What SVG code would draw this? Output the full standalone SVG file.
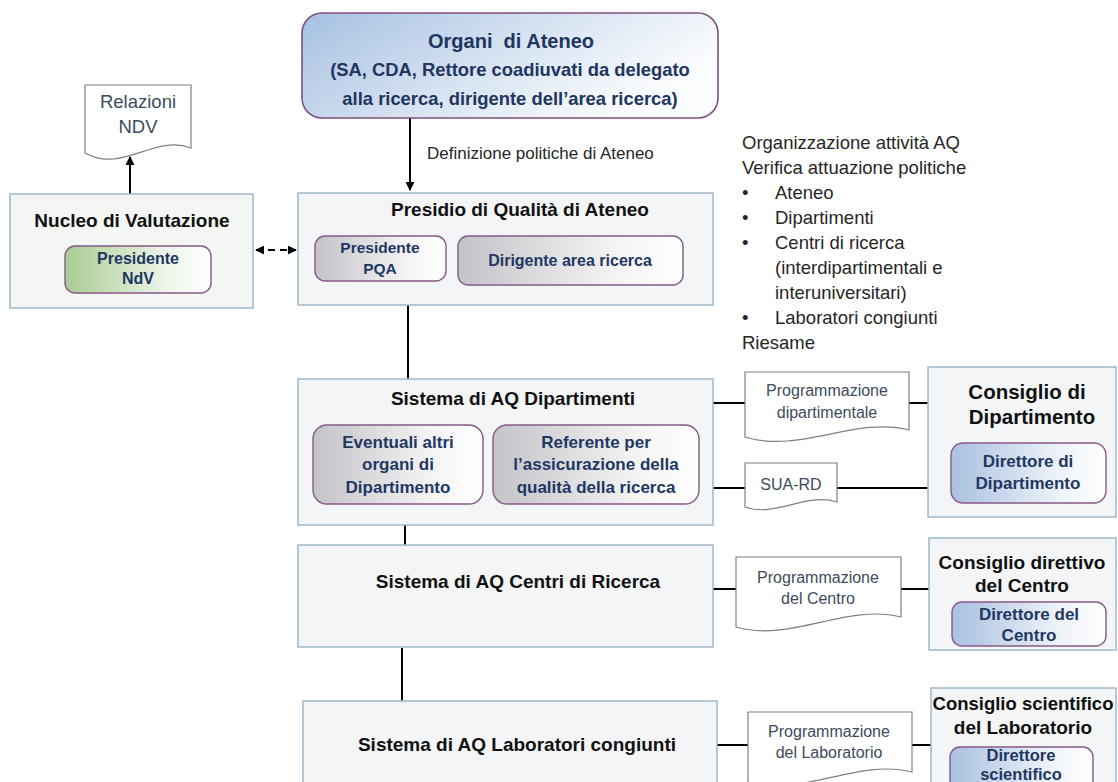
<svg xmlns="http://www.w3.org/2000/svg" width="1118" height="782" viewBox="0 0 1118 782">
<defs>
<linearGradient id="gOrg" x1="0" y1="0" x2="1" y2="0.4"><stop offset="0" stop-color="#a6c0e2"/><stop offset="0.6" stop-color="#dbe6f3"/><stop offset="1" stop-color="#fbfcfe"/></linearGradient>
<linearGradient id="gGray" x1="0" y1="0" x2="1" y2="0"><stop offset="0" stop-color="#c3c3c8"/><stop offset="0.7" stop-color="#f4f4f5"/><stop offset="1" stop-color="#ffffff"/></linearGradient>
<linearGradient id="gBlue" x1="0" y1="0" x2="1" y2="0"><stop offset="0" stop-color="#a9c0e0"/><stop offset="0.7" stop-color="#eef3f9"/><stop offset="1" stop-color="#ffffff"/></linearGradient>
<linearGradient id="gGreen" x1="0" y1="0" x2="1" y2="0"><stop offset="0" stop-color="#a9cc93"/><stop offset="0.7" stop-color="#eef5ea"/><stop offset="1" stop-color="#ffffff"/></linearGradient>
<marker id="ah" viewBox="0 0 10 10" refX="9" refY="5" markerWidth="4.5" markerHeight="4.5" orient="auto-start-reverse"><path d="M0,0 L10,5 L0,10 Z" fill="#000"/></marker>
<style>
.frame{fill:#f3f5f7;stroke:#9fb9cc;stroke-width:1.5}
.sub{stroke:#875a87;stroke-width:1.4}
.doc{fill:#ffffff;stroke:#808080;stroke-width:1.2}
.ln{stroke:#000;stroke-width:2;fill:none}
text{font-family:"Liberation Sans",Arial,sans-serif}
.ttl{font-weight:bold;fill:#111;text-anchor:middle}
.nv{font-weight:bold;fill:#1f3763;text-anchor:middle}
.dt{fill:#3d4b5c;text-anchor:middle;font-size:16px}
.pl{fill:#262626;font-size:18.5px}
</style>
</defs>

<g id="connectors">
<line class="ln" x1="410" y1="118" x2="410" y2="190" marker-end="url(#ah)"/>
<line class="ln" x1="130" y1="194" x2="130" y2="157" marker-end="url(#ah)"/>
<line class="ln" x1="256" y1="250" x2="296" y2="250" stroke-dasharray="7,5" marker-start="url(#ah)" marker-end="url(#ah)"/>
<line class="ln" x1="408" y1="305" x2="408" y2="379"/>
<line class="ln" x1="405" y1="525" x2="405" y2="545"/>
<line class="ln" x1="402" y1="648" x2="402" y2="701"/>
<line class="ln" x1="713" y1="403" x2="745" y2="403"/>
<line class="ln" x1="909" y1="403" x2="928" y2="403"/>
<line class="ln" x1="713" y1="488" x2="745" y2="488"/>
<line class="ln" x1="837" y1="488" x2="928" y2="488"/>
<line class="ln" x1="713" y1="589" x2="736" y2="589"/>
<line class="ln" x1="901" y1="589" x2="929" y2="589"/>
<line class="ln" x1="717" y1="745" x2="748" y2="745"/>
<line class="ln" x1="912" y1="745" x2="931" y2="745"/>
<text x="427" y="159" style="font-size:17px;fill:#262626">Definizione politiche di Ateneo</text>
</g>

<g id="organi">
<rect x="302" y="13" width="416" height="105" rx="20" fill="url(#gOrg)" stroke="#7f507f" stroke-width="1.6"/>
<text class="nv" x="511" y="48" style="font-size:20px;fill:#203560">Organi&#160; di Ateneo</text>
<text class="nv" x="510" y="76" style="font-size:18.4px;fill:#203560">(SA, CDA, Rettore coadiuvati da delegato</text>
<text class="nv" x="510" y="105" style="font-size:18.4px;fill:#203560">alla ricerca, dirigente dell’area ricerca)</text>
</g>

<g id="relazioni-ndv">
<path class="doc" d="M85,85 H191 V148 C154,134 122,174 85,153 Z"/>
<text class="dt" x="138" y="108" style="font-size:18.5px">Relazioni</text>
<text class="dt" x="138" y="133" style="font-size:18.5px">NDV</text>
</g>

<g id="nucleo">
<rect class="frame" x="10" y="194" width="243" height="114" style="fill:#f3f6f3"/>
<text class="ttl" x="132" y="227" style="font-size:19px">Nucleo di Valutazione</text>
<rect class="sub" x="65" y="246" width="146" height="47" rx="10" fill="url(#gGreen)"/>
<text class="nv" x="138" y="264" style="font-size:16px">Presidente</text>
<text class="nv" x="138" y="284" style="font-size:16px">NdV</text>
</g>

<g id="presidio">
<rect class="frame" x="298" y="193" width="415" height="112"/>
<text class="ttl" x="520" y="216" style="font-size:19px">Presidio di Qualità di Ateneo</text>
<rect class="sub" x="315" y="236" width="131" height="45" rx="10" fill="url(#gGray)"/>
<text class="nv" x="380" y="253" style="font-size:15.5px">Presidente</text>
<text class="nv" x="380" y="274" style="font-size:15.5px">PQA</text>
<rect class="sub" x="458" y="236" width="225" height="49" rx="10" fill="url(#gGray)"/>
<text class="nv" x="570" y="266" style="font-size:16px">Dirigente area ricerca</text>
</g>

<g id="attivita">
<text class="pl" x="742" y="149">Organizzazione attività AQ</text>
<text class="pl" x="742" y="174">Verifica attuazione politiche</text>
<text class="pl" x="742" y="199">•</text><text class="pl" x="775" y="199">Ateneo</text>
<text class="pl" x="742" y="224">•</text><text class="pl" x="775" y="224">Dipartimenti</text>
<text class="pl" x="742" y="249">•</text><text class="pl" x="775" y="249">Centri di ricerca</text>
<text class="pl" x="775" y="274">(interdipartimentali e</text>
<text class="pl" x="775" y="299">interuniversitari)</text>
<text class="pl" x="742" y="324">•</text><text class="pl" x="775" y="324">Laboratori congiunti</text>
<text class="pl" x="742" y="349">Riesame</text>
</g>

<g id="dipartimenti">
<rect class="frame" x="298" y="379" width="415" height="146"/>
<text class="ttl" x="513" y="405" style="font-size:19px">Sistema di AQ Dipartimenti</text>
<rect class="sub" x="313" y="425" width="170" height="79" rx="14" fill="url(#gGray)"/>
<text class="nv" x="398" y="448" style="font-size:17px">Eventuali altri</text>
<text class="nv" x="398" y="470" style="font-size:17px">organi di</text>
<text class="nv" x="398" y="493" style="font-size:17px">Dipartimento</text>
<rect class="sub" x="493" y="425" width="206" height="79" rx="14" fill="url(#gGray)"/>
<text class="nv" x="596" y="448" style="font-size:17px">Referente per</text>
<text class="nv" x="596" y="470" style="font-size:17px">l’assicurazione della</text>
<text class="nv" x="596" y="493" style="font-size:17px">qualità della ricerca</text>
</g>

<g id="prog-dipartimentale">
<path class="doc" d="M745,372 H909 V430 C855,416 800,454 745,437 Z"/>
<text class="dt" x="827" y="396">Programmazione</text>
<text class="dt" x="827" y="418">dipartimentale</text>
</g>

<g id="sua-rd">
<path class="doc" d="M745,463 H837 V502 C805,492 775,518 745,507 Z"/>
<text class="dt" x="791" y="490">SUA-RD</text>
</g>

<g id="consiglio-dip">
<rect class="frame" x="928" y="367" width="188" height="150"/>
<text class="ttl" x="1027" y="399" style="font-size:20.5px">Consiglio di</text>
<text class="ttl" x="1032" y="424" style="font-size:20.5px">Dipartimento</text>
<rect class="sub" x="951" y="443" width="155" height="60" rx="12" fill="url(#gBlue)"/>
<text class="nv" x="1028" y="467" style="font-size:17px">Direttore di</text>
<text class="nv" x="1028" y="489" style="font-size:17px">Dipartimento</text>
</g>

<g id="centri">
<rect class="frame" x="298" y="545" width="415" height="102"/>
<text class="ttl" x="518" y="588" style="font-size:19px">Sistema di AQ Centri di Ricerca</text>
</g>

<g id="prog-centro">
<path class="doc" d="M736,557 H901 V617 C846,603 791,643 736,627 Z"/>
<text class="dt" x="818" y="583">Programmazione</text>
<text class="dt" x="818" y="604">del Centro</text>
</g>

<g id="consiglio-centro">
<rect class="frame" x="929" y="538" width="187" height="112"/>
<text class="ttl" x="1022" y="569" style="font-size:19px">Consiglio direttivo</text>
<text class="ttl" x="1022" y="592" style="font-size:19px">del Centro</text>
<rect class="sub" x="952" y="602" width="154" height="44" rx="10" fill="url(#gBlue)"/>
<text class="nv" x="1029" y="620" style="font-size:17px">Direttore del</text>
<text class="nv" x="1029" y="641" style="font-size:17px">Centro</text>
</g>

<g id="laboratori">
<rect class="frame" x="303" y="701" width="414" height="110"/>
<text class="ttl" x="517" y="751" style="font-size:19px">Sistema di AQ Laboratori congiunti</text>
</g>

<g id="prog-laboratorio">
<path class="doc" d="M748,712 H912 V772 C857,758 802,798 748,782 Z"/>
<text class="dt" x="829" y="737">Programmazione</text>
<text class="dt" x="829" y="758">del Laboratorio</text>
</g>

<g id="consiglio-lab">
<rect class="frame" x="931" y="688" width="185" height="120"/>
<text class="ttl" x="1023" y="710" style="font-size:18.5px">Consiglio scientifico</text>
<text class="ttl" x="1023" y="734" style="font-size:19px">del Laboratorio</text>
<rect class="sub" x="950" y="747" width="143" height="60" rx="10" fill="url(#gBlue)"/>
<text class="nv" x="1021" y="761" style="font-size:16.5px">Direttore</text>
<text class="nv" x="1021" y="780" style="font-size:16.5px">scientifico</text>
</g>
</svg>
